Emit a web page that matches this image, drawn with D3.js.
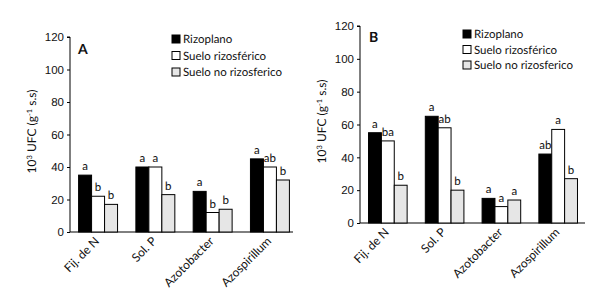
<!DOCTYPE html>
<html>
<head>
<meta charset="utf-8">
<script src="https://cdn.jsdelivr.net/npm/d3@7"></script>
<style>
  body { margin: 0; background: #fff; -webkit-font-smoothing: antialiased; }
  svg { font-family: Lato, "Open Sans", sans-serif; text-rendering: geometricPrecision; }
  text { fill: #111; }
</style>
</head>
<body>
<div id="container"></div>
<script>
/* CONSTANTS AND GLOBALS */
const width = 608, height = 290;
const series = ["Rizoplano", "Suelo rizosférico", "Suelo no rizosferico"];
const groups = ["Fij. de N", "Sol. P", "Azotobacter", "Azospirillum"];
const yTicks = [0, 20, 40, 60, 80, 100, 120];
const colors = ["#000000", "#ffffff", "#e6e6e6"];

// panel A values (rows = groups, cols = series)
const valuesA = [[35, 22, 17], [40, 40, 23], [25, 12, 14], [45, 40, 32]];
const lettersA = [["a", "b", "b"], ["a", "a", "b"], ["a", "b", "b"], ["a", "ab", "b"]];
// panel B values
const valuesB = [[55, 50, 23], [65, 58, 20], [15, 10, 14], [42, 57, 27]];
const lettersB = [["a", "ba", "b"], ["a", "ab", "b"], ["a", "a", "a"], ["ab", "a", "b"]];

const svg = d3.select("#container").append("svg")
  .attr("width", width).attr("height", height);

function drawPanel(opt) {
  const g = svg.append("g");

  const yScale = d3.scaleLinear().domain([0, 120]).range([opt.y0, opt.y120]);
  const xScale = d3.scaleBand().domain(groups)
    .range([opt.left, opt.left + opt.bandW])
    .paddingInner(0.32).paddingOuter(0.15);
  const xSub = d3.scaleBand().domain(d3.range(3)).range([0, xScale.bandwidth()]);

  // y axis
  const yAxis = d3.axisLeft(yScale).tickValues(yTicks).tickSize(3).tickPadding(3);
  const ya = g.append("g").attr("transform", `translate(${opt.left},0)`).call(yAxis);
  ya.select(".domain").attr("d", `M-3,${opt.y120}H0V${opt.y0}`);
  ya.selectAll("text").attr("font-size", 11.5).attr("fill", "#111");

  // x axis line
  g.append("line")
    .attr("x1", opt.left).attr("x2", opt.right)
    .attr("y1", opt.y0).attr("y2", opt.y0)
    .attr("stroke", "#000");

  // bars
  const grp = g.selectAll(".grp").data(opt.values).join("g")
    .attr("transform", (d, i) => `translate(${xScale(groups[i])},0)`);
  grp.selectAll("rect").data(d => d).join("rect")
    .attr("x", (d, j) => xSub(j))
    .attr("y", d => yScale(d))
    .attr("width", xSub.bandwidth())
    .attr("height", d => yScale(0) - yScale(d))
    .attr("fill", (d, j) => colors[j])
    .attr("stroke", "#000").attr("stroke-width", 1);

  // significance letters
  grp.selectAll("text").data((d, i) => d.map((v, j) => ({ v, l: opt.letters[i][j] }))).join("text")
    .attr("x", (d, j) => xSub(j) + xSub.bandwidth() / 2)
    .attr("y", d => yScale(d.v) - 5)
    .attr("text-anchor", "middle")
    .attr("font-size", 11.5)
    .text(d => d.l);

  // x labels
  g.selectAll(".xl").data(groups).join("text")
    .attr("transform", d => `translate(${xScale(d) + xScale.bandwidth() / 2 + 2},${opt.y0 + 10}) rotate(-45)`)
    .attr("text-anchor", "end")
    .attr("font-size", 12)
    .text(d => d);

  // y title
  const yt = g.append("text")
    .attr("transform", `translate(${opt.left - 34},${(opt.y0 + opt.y120) / 2 - 3}) rotate(-90)`)
    .attr("text-anchor", "middle")
    .attr("font-size", 12);
  yt.append("tspan").text("10");
  yt.append("tspan").attr("dy", -4).attr("font-size", 7.5).text("3");
  yt.append("tspan").attr("dy", 4).text(" UFC (g");
  yt.append("tspan").attr("dy", -4).attr("font-size", 7.5).text("-1");
  yt.append("tspan").attr("dy", 4).text(" s.s)");

  // panel letter
  g.append("text").attr("x", opt.tagX).attr("y", opt.tagY)
    .attr("font-weight", "bold").attr("font-size", 14).text(opt.tag);

  // legend
  const lg = g.selectAll(".lg").data(series).join("g")
    .attr("transform", (d, i) => `translate(${opt.legX},${opt.legY + i * opt.legStep})`);
  lg.append("rect").attr("x", 0).attr("y", -4).attr("width", 8).attr("height", 8)
    .attr("fill", (d, i) => colors[i]).attr("stroke", "#000");
  lg.append("text").attr("x", 11).attr("y", 4).attr("font-size", 11.5).text(d => d);
}

drawPanel({ values: valuesA, letters: lettersA, left: 70, right: 293, bandW: 228,
  y0: 232, y120: 37, tag: "A", tagX: 78, tagY: 54,
  legX: 172, legY: 39, legStep: 16.5 });
drawPanel({ values: valuesB, letters: lettersB, left: 360, right: 585, bandW: 226,
  y0: 223, y120: 26, tag: "B", tagX: 369, tagY: 42,
  legX: 463, legY: 34, legStep: 15.5 });
</script>
</body>
</html>
